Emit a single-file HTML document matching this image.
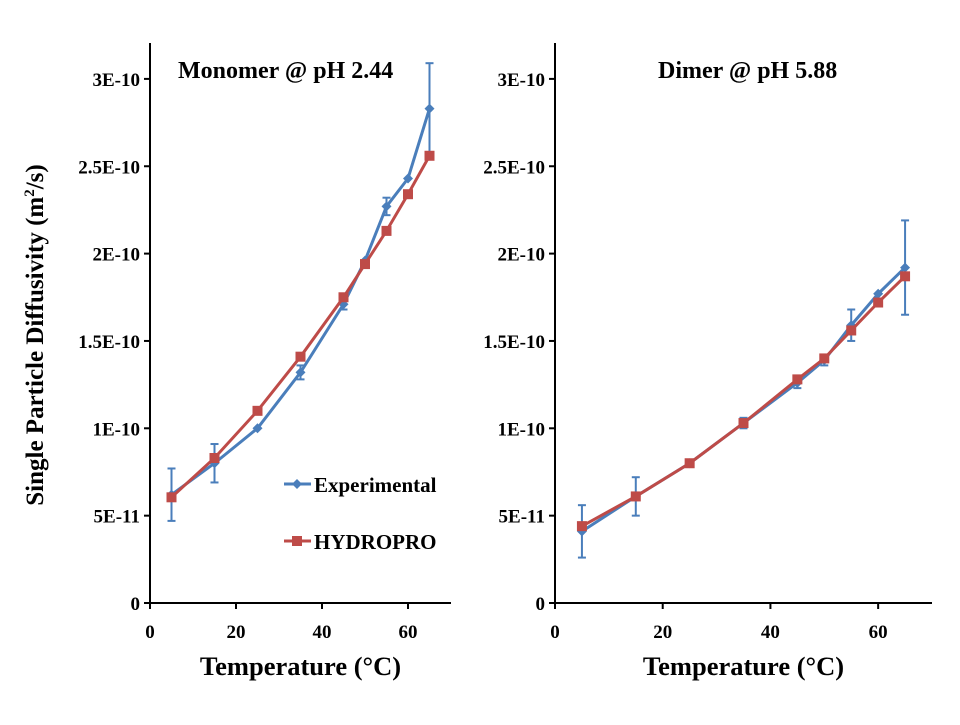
<!DOCTYPE html>
<html><head><meta charset="utf-8"><style>
body{margin:0;background:#fff}
svg text{font-family:"Liberation Serif",serif;font-weight:bold;fill:#000}
</style></head><body>
<svg id="c" width="960" height="720"></svg>
<script>
const temps=[5,15,25,35,45,50,55,60,65];
const monoExp=[6.2,8.0,10.0,13.2,17.1,19.6,22.7,24.3,28.3];
const monoExpErr=[1.5,1.1,0,0.4,0.3,0,0.5,0,2.6];
const monoHydro=[6.05,8.3,11.0,14.1,17.5,19.4,21.3,23.4,25.6];
const dimExp=[4.1,6.1,8.0,10.3,12.6,13.9,15.9,17.7,19.2];
const dimExpErr=[1.5,1.1,0,0.3,0.3,0.3,0.9,0,2.7];
const dimHydro=[4.4,6.1,8.0,10.3,12.8,14.0,15.6,17.2,18.7];
const yTicks=[0,5,10,15,20,25,30];
const yLabels=["0","5E-11","1E-10","1.5E-10","2E-10","2.5E-10","3E-10"];
const xTicks=[0,20,40,60];
const NS="http://www.w3.org/2000/svg";
const svg=document.getElementById('c');
function mk(t,a,p){const e=document.createElementNS(NS,t);for(const k in a)e.setAttribute(k,a[k]);(p||svg).appendChild(e);return e;}
function panel(name,x0,x1,title,tx,exp,err,hyd,legend){
  const g=mk('g',{});
  
  
  const sx=v=>x0+(x1-x0)*v/70, sy=v=>603-v*17.47;
  mk('line',{x1:x0,y1:43,x2:x0,y2:604,stroke:'#000','stroke-width':2},g);
  mk('line',{x1:x0-1,y1:603,x2:x1,y2:603,stroke:'#000','stroke-width':2},g);
  yTicks.forEach((v,i)=>{
    mk('line',{x1:x0-6,y1:sy(v),x2:x0,y2:sy(v),stroke:'#000','stroke-width':2},g);
    const t=mk('text',{x:x0-10,y:sy(v)+7,'text-anchor':'end','font-size':19},g);
    
    
    t.textContent=yLabels[i];
  });
  xTicks.forEach(v=>{
    mk('line',{x1:sx(v),y1:603,x2:sx(v),y2:609,stroke:'#000','stroke-width':2},g);
    const t=mk('text',{x:sx(v),y:638,'text-anchor':'middle','font-size':19},g);
    
    
    t.textContent=v;
  });
  const xt=mk('text',{x:x0+150.5+(x1-x0-301)/2,y:675,'text-anchor':'middle','font-size':26.5},g);
  
  
  xt.textContent='Temperature (°C)';
  const tt=mk('text',{x:tx,y:78,'font-size':24},g);
  
  
  tt.textContent=title;
  temps.forEach((t,i)=>{ if(err[i]>0){
    const x=sx(t);
    mk('line',{x1:x,y1:sy(exp[i]-err[i]),x2:x,y2:sy(exp[i]+err[i]),stroke:'#4a7ebb','stroke-width':2},g);
    [exp[i]-err[i],exp[i]+err[i]].forEach(v=>mk('line',{x1:x-4,y1:sy(v),x2:x+4,y2:sy(v),stroke:'#4a7ebb','stroke-width':2},g));
  }});
  const l1=mk('polyline',{points:temps.map((t,i)=>sx(t)+','+sy(exp[i])).join(' '),fill:'none',stroke:'#4a7ebb','stroke-width':3},g);
  
  
  temps.forEach((t,i)=>{const x=sx(t),y=sy(exp[i]);
    const m=mk('polygon',{points:`${x},${y-5} ${x+5},${y} ${x},${y+5} ${x-5},${y}`,fill:'#4a7ebb'},g);
    
    });
  const l2=mk('polyline',{points:temps.map((t,i)=>sx(t)+','+sy(hyd[i])).join(' '),fill:'none',stroke:'#be4b48','stroke-width':3},g);
  
  
  temps.forEach((t,i)=>{const x=sx(t),y=sy(hyd[i]);
    const m=mk('rect',{x:x-5,y:y-5,width:10,height:10,fill:'#be4b48'},g);
    
    });
  if(legend){
    const a=mk('g',{},g);
    mk('line',{x1:284,y1:484,x2:311,y2:484,stroke:'#4a7ebb','stroke-width':3},a);
    mk('polygon',{points:'297,479 302,484 297,489 292,484',fill:'#4a7ebb'},a);
    const t1=mk('text',{x:314,y:492,'font-size':21},a);t1.textContent='Experimental';
    const b=mk('g',{},g);
    mk('line',{x1:284,y1:541,x2:311,y2:541,stroke:'#be4b48','stroke-width':3},b);
    mk('rect',{x:292,y:536,width:10,height:10,fill:'#be4b48'},b);
    const t2=mk('text',{x:314,y:549,'font-size':21},b);t2.textContent='HYDROPRO';
  }
}
panel('monomer-panel',150,451,'Monomer @ pH 2.44',178,monoExp,monoExpErr,monoHydro,true);
panel('dimer-panel',555,932,'Dimer @ pH 5.88',658,dimExp,dimExpErr,dimHydro,false);
const yt=mk('text',{x:0,y:0,'text-anchor':'middle','font-size':25,transform:'translate(43,335) rotate(-90)'});


yt.innerHTML='Single Particle Diffusivity (m<tspan font-size="15" dy="-9">2</tspan><tspan dy="9">/s)</tspan>';
</script>
</body></html>
